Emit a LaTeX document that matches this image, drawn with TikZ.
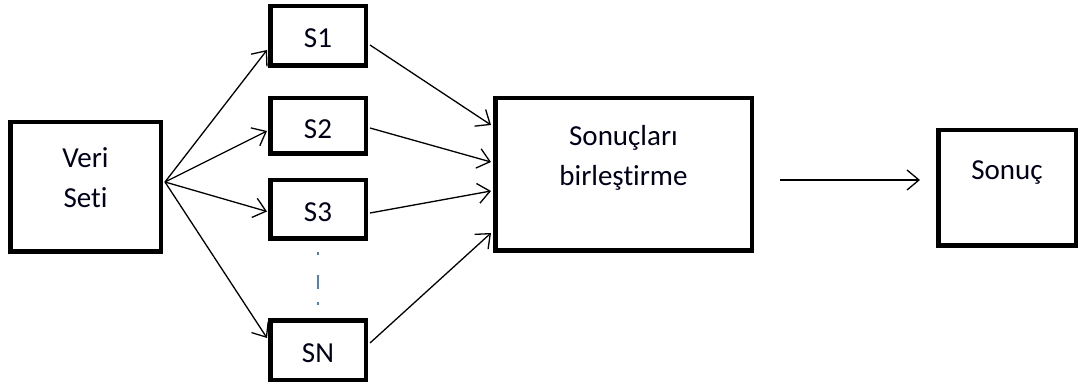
\documentclass[tikz,border=0pt]{standalone}
\usepackage{fontspec}
\setmainfont{Carlito}[Ligatures={NoCommon}]
\usetikzlibrary{arrows.meta,calc}
\begin{document}
\begin{tikzpicture}[x=1pt,y=-1pt,
  box/.style={draw=black, line width=4.5pt, inner sep=0pt, fill=white},
  txt/.style={font=\fontsize{29}{40}\selectfont, align=center, inner sep=0pt, text=black!90!blue},
  conn/.style={line width=1.3pt, -{Straight Barb[length=12pt,width=20pt]}},
  dots/.style={line width=1.3pt, draw={rgb,255:red,79;green,129;blue,189}}]
\useasboundingbox[fill=white] (0,0) rectangle (1081,387);

% boxes
\node[box, minimum width=150.5pt, minimum height=129.5pt] (vs) at (85.5,187) {};
\node[txt] at (85.5,177.5) {Veri\\Seti};

\node[box, minimum width=95.5pt, minimum height=59.5pt] (s1) at (318,36) {};
\node[txt] at (318,38) {S1};
\node[box, minimum width=95.5pt, minimum height=55.5pt] (s2) at (318,126) {};
\node[txt] at (318,129) {S2};
\node[box, minimum width=95.5pt, minimum height=58.5pt] (s3) at (318,209.5) {};
\node[txt] at (318,212) {S3};
\node[box, minimum width=95.5pt, minimum height=59.5pt] (sn) at (318,350) {};
\node[txt] at (318,353) {SN};

\node[box, minimum width=256.5pt, minimum height=152.5pt] (sb) at (623.5,174.5) {};
\node[txt] at (623.5,158) {Sonuçları\\birleştirme};

\node[box, minimum width=137.5pt, minimum height=115.5pt] (sc) at (1007,188) {};
\node[txt] at (1007,173) {Sonuç};

% connectors from Veri Seti
\coordinate (o) at ($(vs.east)+(2,-5)$);
\draw[conn] (o) -- ($(s1.west)+(-1,14)$);
\draw[conn] (o) -- ($(s2.west)+(-1,5)$);
\draw[conn] (o) -- ($(s3.west)+(-1,2)$);
\draw[conn] (o) -- ($(sn.west)+(-1,-12)$);

% connectors to Sonuçları birleştirme
\draw[conn] ($(s1.east)+(2,9)$) -- ($(sb.west)+(-2,-49.5)$);
\draw[conn] ($(s2.east)+(2,2)$) -- ($(sb.west)+(-2,-12.5)$);
\draw[conn] ($(s3.east)+(2,3.5)$) -- ($(sb.west)+(-2,16.5)$);
\draw[conn] ($(sn.east)+(2,-7)$) -- ($(sb.west)+(-2,58.5)$);

% dashed continuation
\draw[dots, dash pattern=on 3pt off 20pt on 14pt off 13pt] ($(s3.south)+(0,11)$) -- ($(sn.north)+(0,-10)$);

% free arrow to Sonuç
\coordinate (a1) at (780,180);
\coordinate (a2) at (920,180);
\draw[conn] (a1) -- (a2);
\end{tikzpicture}
\end{document}
